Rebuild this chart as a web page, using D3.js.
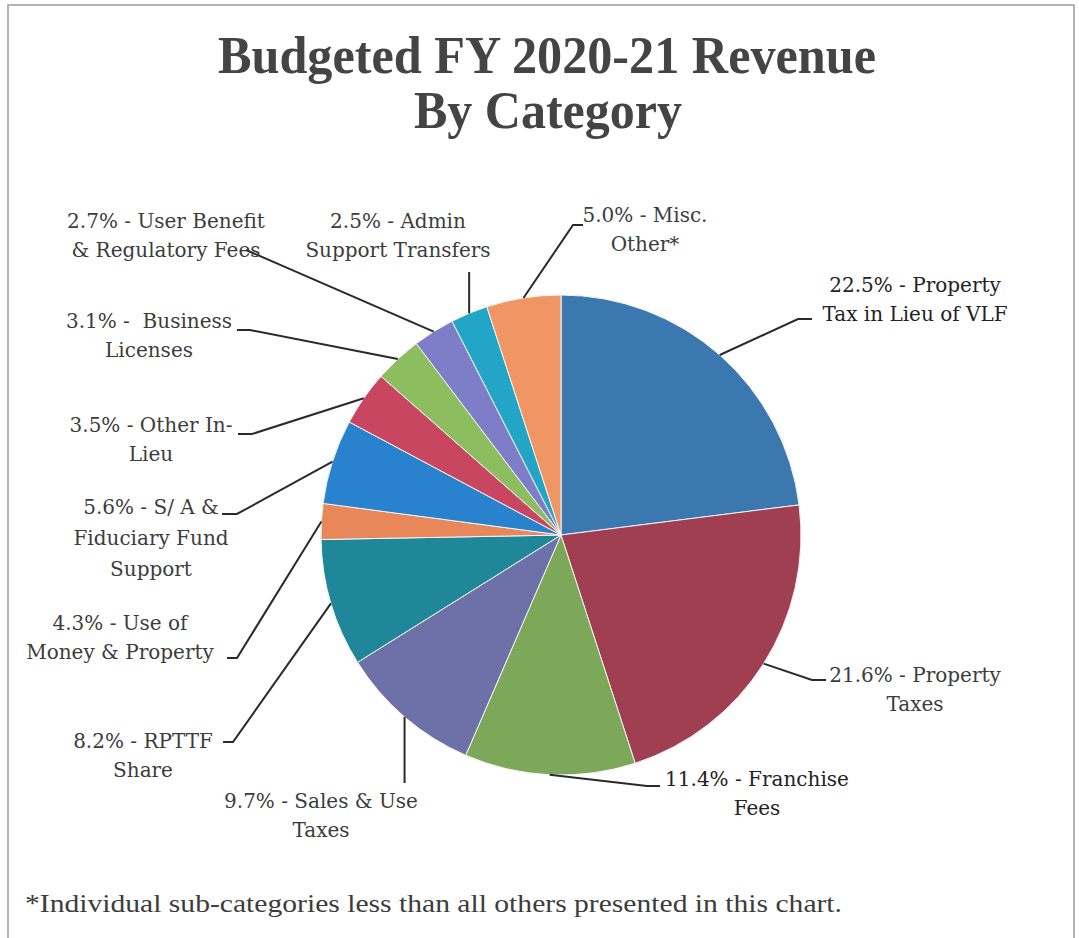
<!DOCTYPE html>
<html>
<head>
<meta charset="utf-8">
<script src="https://cdn.jsdelivr.net/npm/d3@7"></script>
<style>
  body { margin: 0; background: #fff; }
  svg text { font-family: "Liberation Serif", "Times New Roman", serif; }
  svg text.lbl { font-family: "DejaVu Serif", serif; }
</style>
</head>
<body>
<script>

// slice sizes as drawn, clockwise from 12 o'clock
var sliceValues = [23.0, 22.0, 11.5, 9.6, 8.6, 2.4, 5.7, 3.7, 3.2, 2.8, 2.5, 5.0];
var categories = ["Property Tax in Lieu of VLF", "Property Taxes", "Franchise Fees", "Sales & Use Taxes",
  "RPTTF Share", "Use of Money & Property", "S/A & Fiduciary Fund Support", "Other In-Lieu",
  "Business Licenses", "User Benefit & Regulatory Fees", "Admin Support Transfers", "Misc. Other*"];
// label text as printed on the chart
var labelLines = [
  ["22.5% - Property", "Tax in Lieu of VLF"],
  ["21.6% - Property", "Taxes"],
  ["11.4% - Franchise", "Fees"],
  ["9.7% - Sales & Use", "Taxes"],
  ["8.2% - RPTTF", "Share"],
  ["4.3% - Use of", "Money & Property"],
  ["5.6% - S/ A &", "Fiduciary Fund", "Support"],
  ["3.5% - Other In-", "Lieu"],
  ["3.1% -  Business", "Licenses"],
  ["2.7% - User Benefit", "& Regulatory Fees"],
  ["2.5% - Admin", "Support Transfers"],
  ["5.0% - Misc.", "Other*"]
];
var colors = ["#3A78AF", "#A03E52", "#7DA85A", "#6E70A8", "#208798", "#E8875A",
  "#2882CD", "#C8465F", "#8CBE5F", "#7D7DC8", "#23A5C8", "#F09664"];

var W = 1079, H = 938;
var cx = 561, cy = 535, R = 240;

// label placement (centre x, first baseline) and where the leader meets it
var labelLayout = [
  {x: 915, y: 292, ax: 812, ay: 319, tail: -14},
  {x: 915, y: 682, ax: 826, ay: 680, tail: -14},
  {x: 757, y: 786, ax: 660, ay: 786, tail: -13},
  {x: 321, y: 808, ay: 783, vertical: true},
  {x: 143, y: 748, ax: 223, ay: 742, tail: 10},
  {x: 120, y: 630, ax: 227, ay: 658, tail: 10},
  {x: 151, y: 514, ax: 222, ay: 514, tail: 15},
  {x: 151, y: 432, ax: 238, ay: 434, tail: 14},
  {x: 149, y: 328, ax: 237, ay: 330, tail: 13},
  {x: 166, y: 228, ax: 246, ay: 250, tail: 0},
  {x: 398, y: 228, ay: 272, vertical: true},
  {x: 645, y: 222, ax: 583, ay: 225, tail: -10}
];

var svg = d3.select("body").append("svg").attr("width", W).attr("height", H);

svg.append("rect")
  .attr("x", 8).attr("y", 5)
  .attr("width", 1066).attr("height", 960)
  .attr("fill", "none")
  .attr("stroke", "#9a9a9a")
  .attr("stroke-width", 1.5);

svg.append("text")
  .attr("x", 547).attr("y", 73)
  .attr("text-anchor", "middle")
  .attr("font-size", 52).attr("font-weight", "bold")
  .attr("fill", "#444")
  .attr("textLength", 658).attr("lengthAdjust", "spacingAndGlyphs")
  .text("Budgeted FY 2020-21 Revenue");
svg.append("text")
  .attr("x", 548).attr("y", 128)
  .attr("text-anchor", "middle")
  .attr("font-size", 52).attr("font-weight", "bold")
  .attr("fill", "#444")
  .attr("textLength", 268).attr("lengthAdjust", "spacingAndGlyphs")
  .text("By Category");

var pie = d3.pie().sort(null).value(function(d) { return d; });
var arcs = pie(sliceValues);
var arc = d3.arc().innerRadius(0).outerRadius(R);
var edge = d3.arc().innerRadius(R).outerRadius(R);

var g = svg.append("g").attr("transform", "translate(" + cx + "," + cy + ")");

g.selectAll(".slice")
  .data(arcs)
  .enter().append("path")
    .attr("class", "slice")
    .attr("d", arc)
    .attr("fill", function(d, i) { return colors[i]; })
    .attr("stroke", "#f4f4f4")
    .attr("stroke-width", 1)
    .append("title").text(function(d, i) { return categories[i]; });

// leader lines
arcs.forEach(function(d, i) {
  var L = labelLayout[i];
  var p = edge.centroid(d);
  var px = p[0] + cx, py = p[1] + cy;
  var pts;
  if (L.vertical) {
    pts = [[px, py], [px, L.ay]];
  } else {
    pts = [[px, py], [L.ax + L.tail, L.ay], [L.ax, L.ay]];
  }
  svg.append("path")
    .attr("d", d3.line()(pts))
    .attr("fill", "none")
    .attr("stroke", "#2a2a2a")
    .attr("stroke-width", 2);
});

// labels
labelLines.forEach(function(lines, i) {
  var L = labelLayout[i];
  var t = svg.append("text")
    .attr("class", "lbl")
    .attr("text-anchor", "middle")
    .attr("font-size", 20)
    .attr("fill", (i === 0 || i === 2) ? "#222" : "#3c3c3c");
  lines.forEach(function(s, j) {
    t.append("tspan")
      .attr("x", L.x)
      .attr("y", L.y + j * (i === 6 ? 31 : 29))
      .attr("xml:space", "preserve")
      .text(s);
  });
});

svg.append("text")
  .attr("x", 25).attr("y", 912)
  .attr("font-size", 25)
  .attr("fill", "#3c3c3c")
  .attr("textLength", 817).attr("lengthAdjust", "spacingAndGlyphs")
  .text("*Individual sub-categories less than all others presented in this chart.");

</script>
</body>
</html>
